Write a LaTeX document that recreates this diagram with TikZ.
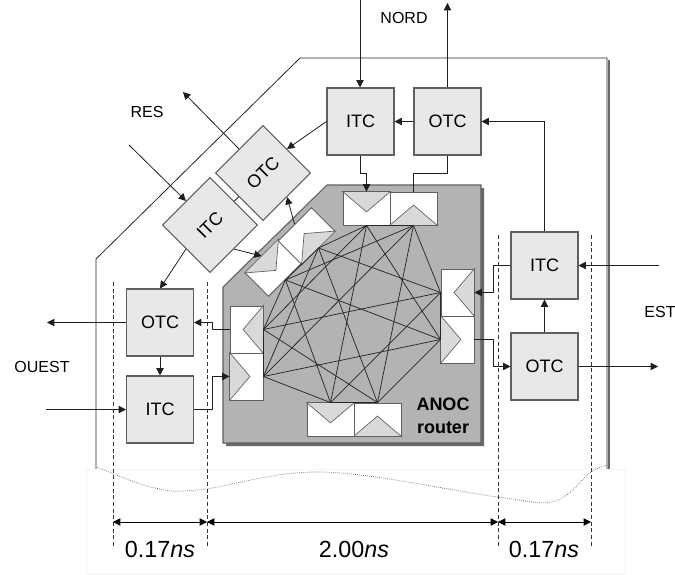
\documentclass[tikz,border=0pt]{standalone}
\usepackage{fontspec}
\setmainfont{Liberation Sans}
\usetikzlibrary{arrows.meta,calc}
\definecolor{boxcol}{RGB}{232,232,232}
\definecolor{edgecol}{RGB}{95,95,95}
\definecolor{routercol}{RGB}{179,179,179}
\definecolor{shadecol}{RGB}{105,105,105}
\definecolor{tricol}{RGB}{217,217,217}
\definecolor{wirecol}{RGB}{30,30,30}

\begin{document}
\begin{tikzpicture}[
    x=0.75pt, y=-0.75pt,
    >={Triangle[length=5.5pt,width=5.5pt]},
    tcbox/.style={draw=edgecol, fill=boxcol, line width=0.8pt, inner sep=0pt,
                  minimum width=50.25pt, minimum height=50.25pt, font=\fontsize{13.5}{15}\selectfont},
    portbox/.style={draw=edgecol, fill=white, line width=0.7pt, inner sep=0pt,
                    minimum width=35.25pt, minimum height=24.75pt},
    portboxv/.style={draw=edgecol, fill=white, line width=0.7pt, inner sep=0pt,
                     minimum width=24.75pt, minimum height=35.25pt},
    porttri/.style={draw=edgecol, fill=tricol, line width=0.5pt},
    wire/.style={draw=wirecol, line width=0.6pt},
    arr/.style={wire, ->},
    mesh/.style={draw=black!85, line width=0.55pt},
    limit/.style={draw=black!80, line width=0.5pt, dash pattern=on 3pt off 2pt},
    dim/.style={draw=black, line width=0.6pt, <->},
    lbl/.style={font=\fontsize{12}{14}\selectfont},
    dimlbl/.style={font=\fontsize{17.5}{20}\selectfont},
]
\useasboundingbox (0,0) rectangle (675,575);

% ============ CHIP OUTLINE ============
\draw[line width=0.6pt, draw=black!85] (96,470) -- (96,259) -- (300,58) -- (607,58) -- (607,470);
\draw[line width=1.5pt, draw=shadecol] (609,60) -- (609,470);

% bottom cut
\fill[white, draw=black!4] (86,469) rectangle (625,573);
\draw[line width=0.5pt, draw=black!65, densely dotted] plot[smooth, tension=0.6] coordinates
  {(97,467) (151,487) (198,490) (323,472) (498,497) (555,501) (591,472) (608,465)};

% ============ TIMING LIMITS ============
\coordinate (lim1t) at (113,282);
\coordinate (lim1b) at (113,546);
\coordinate (lim2t) at (207,282);
\coordinate (lim2b) at (207,546);
\coordinate (lim3t) at (498,235);
\coordinate (lim3b) at (498,548);
\coordinate (lim4t) at (591,235);
\coordinate (lim4b) at (591,548);
\foreach \i in {1,2,3,4}
  \draw[limit] (lim\i t) -- (lim\i b);

% ============ ROUTER ============
\fill[shadecol] (330,188) -- (484,188) -- (484,446) -- (226,446) -- (226,290) -- cycle;
\draw[fill=routercol, draw=edgecol, line width=0.8pt]
  (327,185) -- (481,185) -- (481,443) -- (223,443) -- (223,287) -- cycle;
\node[font=\fontsize{13.5}{17}\selectfont\bfseries, align=center] (anoc) at (443,416) {ANOC\\router};

% ports
\node[portbox] (tp1) at (366.5,208.5) {};
\node[portbox] (tp2) at (413.5,208.5) {};
\node[portbox] (bp1) at (330.5,419.5) {};
\node[portbox] (bp2) at (377.5,419.5) {};
\node[portboxv] (rp1) at (457.5,292.5) {};
\node[portboxv] (rp2) at (457.5,339.5) {};
\node[portboxv] (lp1) at (246.5,329.5) {};
\node[portboxv] (lp2) at (246.5,376.5) {};
\node[portbox, rotate=45] (dp1) at (273.5,268) {};
\node[portbox, rotate=45] (dp2) at (306.5,236) {};

\foreach \p/\ca/\cb/\base/\tip in {
    tp1/north west/north east/north/south, tp2/south west/south east/south/north,
    bp1/north west/north east/north/south, bp2/south west/south east/south/north,
    rp1/north east/south east/east/west, rp2/north west/south west/west/east,
    lp1/north east/south east/east/west, lp2/north west/south west/west/east,
    dp1/north west/north east/north/south, dp2/south west/south east/south/north}
  \draw[porttri] (\p.\ca) -- ($(\p.\base)!0.6!(\p.\tip)$) -- (\p.\cb) -- cycle;

% crossbar
\foreach \src in {lp2.east,tp1.south,rp1.west,bp2.north,dp1.south}
  \foreach \dst in {lp1.east,tp2.south,rp2.west,bp1.north,dp2.south}
    \draw[mesh] (\src) -- (\dst);

% ============ ITC / OTC ============
\node[tcbox] (itcn) at (360.5,121.5) {ITC};
\node[tcbox] (otcn) at (447.5,121.5) {OTC};
\node[tcbox] (itce) at (544.5,265.5) {ITC};
\node[tcbox] (otce) at (544.5,366.5) {OTC};
\node[tcbox] (otcw) at (160,322.5) {OTC};
\node[tcbox] (itcw) at (160,409.5) {ITC};
\node[tcbox, rotate=45] (otcr) at (263,173) {OTC};
\node[tcbox, rotate=45] (itcr) at (210,225) {ITC};

% ============ FREE ENDS ============
\coordinate (nordin) at (360,0);
\coordinate (nordout) at (447.5,3);
\coordinate (resin) at (129,145);
\coordinate (resout) at (183,92);
\coordinate (ouestout) at (47,322.5);
\coordinate (ouestin) at (46,409.5);
\coordinate (estin) at (659,265.5);
\coordinate (estout) at (658,366.5);

% ============ NORD ============
\draw[arr] (nordin) -- (nordin |- itcn.north);
\draw[arr] (otcn.north) -- (nordout);
\draw[arr] (otcn) -- (itcn);
\draw[arr] (itcn.south) -- ++(0,18) -| (tp1.north);
\draw[wire] (otcn.south) -- ++(0,18) -| (tp2.north);

% ============ RES ============
\draw[arr] (resin) -- (itcr.north);
\draw[arr] (otcr.north) -- (resout);
\draw[wire] (itcr) -- (otcr);
\draw[arr] (itcn.west) -- (otcr.east);
\draw[arr] (itcr.west) -- (otcw.north);
\draw[arr] (itcr.south) -- (dp1.north);
\draw[arr] (dp2.north) -- (otcr.south);

% ============ OUEST ============
\draw[arr] (otcw) -- (ouestout);
\draw[arr] (ouestin) -- (itcw);
\draw[arr] (otcw) -- (itcw);
\draw[arr] (itcw.east) -- (212,409.5) |- (lp2.west);
\draw[arr] (lp1.west) -- (212,329.5) |- (otcw.east);

% ============ EST ============
\draw[arr] (estin) -- (itce);
\draw[arr] (otce) -- (estout);
\draw[arr] (otce) -- (itce);
\draw[arr] (itce.north) |- (otcn.east);
\draw[arr] (itce.west) -- (493,265.5) |- (rp1.east);
\draw[arr] (rp2.east) -- (493,339.5) |- (otce.west);

% ============ LABELS ============
\node[lbl] (nord) at (404,18) {NORD};
\node[lbl] (res) at (147,112) {RES};
\node[lbl] (ouest) at (42,367) {OUEST};
\node[lbl] (est) at (660,312) {EST};

% ============ TIMING ============
\coordinate (dim1) at (113,522);
\coordinate (dim2) at (207,522);
\coordinate (dim3) at (498,522);
\coordinate (dim4) at (591,522);
\draw[dim] (dim1) -- (dim2);
\draw[dim] (dim2) -- (dim3);
\draw[dim] (dim3) -- (dim4);
\node[dimlbl] (t1) at (160,549) {0.17\textit{ns}};
\node[dimlbl] (t2) at (354,549) {2.00\textit{ns}};
\node[dimlbl] (t3) at (544,549) {0.17\textit{ns}};

\end{tikzpicture}
\end{document}
